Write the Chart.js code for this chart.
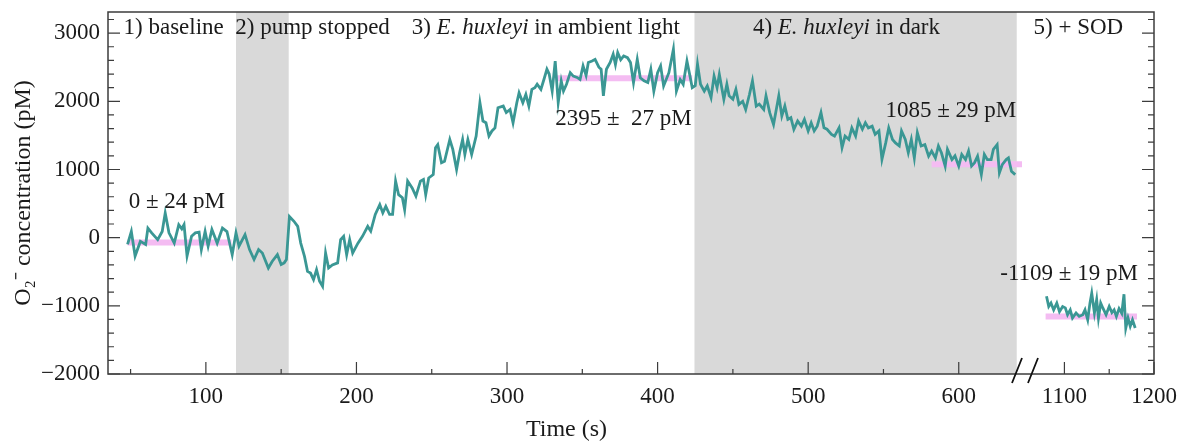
<!DOCTYPE html>
<html>
<head>
  <title>Superoxide trace</title>
  <script src="https://cdn.jsdelivr.net/npm/chart.js"></script>
  <style>
    body { margin: 0; background: white; }
    #wrap { width: 1182px; height: 444px; }
  </style>
</head>
<body>
<div id="wrap"><canvas id="o2Chart" width="1182" height="444"></canvas></div>

<script>
// main trace, time (s) and O2- (pM)
const tMain = [48,50.5,53,56.5,60,61.5,64,68,71,73,75.5,79,82,84,85.5,87.5,90.5,93,95.5,97,99.5,101.5,104,107.5,111,114,117.5,
  120,122,126,129,132,135,137.5,141.5,144,147.5,150,152,153.5,155.5,158.5,161,163,165.5,167.5,169.5,171.5,173.5,175.5,177.5,179.5,
  181.5,184,187.5,189.5,191.5,193.5,195.5,197.5,201,204,207.5,209.5,212.5,215.5,217.5,219.5,222,224,226,228,230.5,232,234,237,
  239.5,242.5,244.5,246,248,251,252.5,254,256.5,258.5,262,264,266.5,268.5,270.5,272,274,276.5,279.5,282,284,286,288,290,292,294,
  297.5,299.5,302,304,306.5,308,310.5,312.5,314.5,316.5,318.5,320,322.5,324.5,326.5,328,330,332,334,336,337.5,339.5,342,344,346.5,
  348.5,350.5,352.5,354,356.5,358.5,361,362.5,364,366,368.5,370.5,372,373.5,375.5,377.5,380,382,384,386.5,388.5,391,393.5,395.5,
  397.5,400,402,404,407.5,410.5,412.5,415,417,419.5,421.5,423,425,426.5,428.5,431,433,435.5,437.5,439.5,441,444,446,447.5,450,452,
  454,456.5,458.5,461,463,465.5,467.5,470.5,472,474.5,477,480.5,482.5,484.5,486.5,488.5,490.5,493,495.5,497.5,500,502,504,506,
  508.5,510.5,512.5,515.5,517.5,520.5,522.5,524.5,527,529,531.5,533.5,536,538,540,542.5,544.5,547,549,551.5,553.5,556,558,560.5,
  562,564.5,566.5,568.5,570.5,572.5,575,577.5,580,582,584.5,586.5,588.5,591,592.5,595.5,597.5,600,602,604.5,606.5,608.5,610.5,
  612.5,615,617,619,621.5,623,625.5,627,629,631.5,633,635,637.5];
const vMain = [-100,90,-270,-55,-100,140,70,-30,90,360,70,-80,190,130,190,-270,20,70,80,-175,90,-125,120,-80,140,90,-250,
  70,-125,45,-175,-320,-175,-225,-445,-350,-250,-395,-370,-320,310,240,165,-80,-275,-495,-520,-615,-470,-640,-715,-225,
  -445,-400,-370,-30,20,-250,-30,-225,-80,20,165,95,340,485,365,460,340,340,830,630,585,410,830,730,
  610,830,855,630,875,925,1320,1365,1100,1120,1440,1295,1000,1245,1440,1220,1440,1220,1490,1980,1710,1685,1490,1565,1610,1905,
  1930,1835,1880,1685,1980,2125,1980,2100,1930,2175,2200,2250,2175,2320,2470,2400,2150,2590,1980,2300,2150,2250,2420,2370,2350,
  2320,2520,2380,2570,2590,2615,2500,2470,2080,2470,2570,2690,2540,2715,2610,2665,2640,2570,2275,2615,2345,2300,2275,2470,
  2150,2420,2520,2225,2420,2765,2150,2320,2250,2590,2370,2200,2230,2545,2250,2150,2225,2055,2370,2200,2395,2030,2250,2080,2030,2175,
  1955,2000,1880,2100,2300,1930,1960,1880,2080,1830,1660,2080,1785,1930,1735,1760,1590,1710,1635,1735,1565,1685,1565,1635,
  1835,1610,1590,1515,1490,1610,1320,1490,1440,1610,1490,1710,1590,1685,1610,1635,1515,1565,1150,1390,1610,1440,1390,1345,
  1565,1440,1245,1440,1170,1540,1345,1365,1195,1270,1170,1345,1245,1050,1295,1145,1200,1050,1220,1145,1270,1050,1100,
  1195,925,1220,1145,1145,1295,1365,950,1075,1145,1170,975,925];

// after SOD addition
const tSod = [1080,1082.5,1085,1088,1091.5,1094.5,1098,1101,1103.5,1106.5,1109,1113,1116.5,1120.5,1123,1126,1128.5,1130.5,
  1133.5,1136,1138,1140.5,1143,1146.5,1150,1153,1155.5,1158,1161,1164,1166.5,1168.5,1171,1173.5,1176,1179];
const vSod = [-860,-1010,-960,-1060,-960,-1085,-1010,-1030,-1130,-1060,-1180,-1105,-1155,-1130,-1060,-1205,-960,-815,
  -1105,-910,-1180,-960,-1035,-1130,-1010,-1100,-1060,-1155,-1040,-1110,-830,-1325,-1180,-1300,-1205,-1325];

// mean levels (pink bars)
const meanSpans = [[48, 117], [333, 423], [582, 642], [1079, 1181]];
const meanVals = [-70, 2340, 1075, -1155];
const meanAxes = ['x', 'x', 'x', 'x2'];
const meanText = ['0 \u00b1 24 pM', '2395 \u00b1  27 pM', '1085 \u00b1 29 pM', '-1109 \u00b1 19 pM'];

// shaded phases
const shadeSpans = [[120, 155], [424.5, 638.5]];

// ticks
const xTicks = [100, 200, 300, 400, 500, 600];
const xMinor = [50, 150, 250, 350, 450, 550];
const x2Ticks = [1100, 1200];
const x2Minor = [1150];
const yTicks = [-2000, -1000, 0, 1000, 2000, 3000];
const yMinor = [-1800,-1600,-1400,-1200,-800,-600,-400,-200,200,400,600,800,1200,1400,1600,1800,2200,2400,2600,2800,3200];

const SERIF = "'Liberation Serif', 'Times New Roman', serif";
const ink = '#1a1a1a';

// phase headings and mean labels: [parts, axis, time, value, align]
const notes = [
  [[['1) baseline', 0]], 'x', 45.3, 3080, 'left'],
  [[['2) pump stopped', 0]], 'x', 119.5, 3080, 'left'],
  [[['3) ', 0], ['E. huxleyi', 1], [' in ambient light', 0]], 'x', 236.7, 3080, 'left'],
  [[['4) ', 0], ['E. huxleyi', 1], [' in dark', 0]], 'x', 463.3, 3080, 'left'],
  [[['5) + SOD', 0]], 'x2', 1065.5, 3080, 'left'],
  [[[meanText[0], 0]], 'x', 48.7, 530, 'left'],
  [[[meanText[1], 0]], 'x', 332, 1735, 'left'],
  [[[meanText[2], 0]], 'x', 551.3, 1852, 'left'],
  [[[meanText[3], 0]], 'x2', 1182, -530, 'right']
];

const decor = {
  id: 'decor',
  beforeDatasetsDraw(chart) {
    const {ctx, chartArea: a, scales} = chart;
    ctx.save();
    ctx.fillStyle = '#d9d9d9';
    shadeSpans.forEach(([s, e]) => {
      const x0 = scales.x.getPixelForValue(s), x1 = scales.x.getPixelForValue(e);
      ctx.fillRect(x0, a.top, x1 - x0, a.bottom - a.top);
    });
    ctx.restore();
  },
  afterDatasetsDraw(chart) {
    const {ctx, scales} = chart;
    ctx.save();
    ctx.fillStyle = ink;
    ctx.textBaseline = 'middle';
    ctx.textAlign = 'left';
    notes.forEach(([parts, ax, t, v, align]) => {
      const fonts = parts.map(p => (p[1] ? 'italic ' : '') + '23px ' + SERIF);
      const widths = parts.map((p, i) => { ctx.font = fonts[i]; return ctx.measureText(p[0]).width; });
      const total = widths.reduce((s, w) => s + w, 0);
      let px = scales[ax].getPixelForValue(t);
      if (align === 'right') px -= total;
      const py = scales.y.getPixelForValue(v);
      parts.forEach((p, i) => { ctx.font = fonts[i]; ctx.fillText(p[0], px, py); px += widths[i]; });
    });
    ctx.restore();
  },
  afterDraw(chart) {
    const {ctx, chartArea: a, scales} = chart;
    ctx.save();
    ctx.strokeStyle = '#3c3c3c';
    ctx.lineWidth = 1.5;
    ctx.strokeRect(a.left, a.top, a.right - a.left, a.bottom - a.top);
    ctx.lineWidth = 1.2;
    ctx.beginPath();
    const yt = (v, len) => {
      const py = scales.y.getPixelForValue(v);
      ctx.moveTo(a.left, py); ctx.lineTo(a.left + len, py);
      ctx.moveTo(a.right, py); ctx.lineTo(a.right - len, py);
    };
    yTicks.forEach(v => yt(v, 12));
    yMinor.forEach(v => yt(v, 6));
    const xt = (sc, v, len) => {
      const px = sc.getPixelForValue(v);
      ctx.moveTo(px, a.bottom); ctx.lineTo(px, a.bottom - len);
    };
    xTicks.forEach(v => xt(scales.x, v, 12));
    xMinor.forEach(v => xt(scales.x, v, 5));
    x2Ticks.forEach(v => xt(scales.x2, v, 12));
    x2Minor.forEach(v => xt(scales.x2, v, 5));
    ctx.stroke();
    // axis break
    const bx = scales.x.right;
    ctx.lineWidth = 1.8;
    ctx.strokeStyle = '#111';
    ctx.beginPath();
    [-13, 3].forEach(o => {
      ctx.moveTo(bx + o, a.bottom + 9);
      ctx.lineTo(bx + o + 10, a.bottom - 16);
    });
    ctx.stroke();
    ctx.restore();
  }
};

const meanSets = meanSpans.map((sp, i) => ({
  data: [{x: sp[0], y: meanVals[i]}, {x: sp[1], y: meanVals[i]}],
  xAxisID: meanAxes[i],
  borderColor: '#f4bcf2',
  borderWidth: 6,
  pointRadius: 0,
  order: 2
}));

const tickFont = {family: SERIF, size: 23};
const noPad = s => { s.paddingLeft = 0; s.paddingRight = 0; s.paddingTop = 0; s.paddingBottom = 0; };

new Chart(document.getElementById('o2Chart'), {
  type: 'line',
  data: {
    datasets: [
      ...meanSets,
      {
        data: tMain.map((t, i) => ({x: t, y: vMain[i]})),
        xAxisID: 'x',
        borderColor: '#3a9794',
        borderWidth: 2.8,
        pointRadius: 0,
        tension: 0,
        order: 1
      },
      {
        data: tSod.map((t, i) => ({x: t, y: vSod[i]})),
        xAxisID: 'x2',
        borderColor: '#3a9794',
        borderWidth: 2.8,
        pointRadius: 0,
        tension: 0,
        order: 1
      }
    ]
  },
  options: {
    responsive: false,
    animation: false,
    layout: { padding: {top: 12, right: 28, left: 0, bottom: 0} },
    plugins: { legend: {display: false}, tooltip: {enabled: false} },
    scales: {
      x: {
        type: 'linear', position: 'bottom', stack: 'time', stackWeight: 917,
        min: 35, max: 644,
        afterBuildTicks: s => { s.ticks = xTicks.map(v => ({value: v})); },
        afterFit: s => { s.height = 70; noPad(s); },
        grid: {display: false, drawTicks: false},
        border: {display: false},
        ticks: {font: tickFont, color: ink, padding: 9, maxRotation: 0, callback: v => String(v)},
        title: {display: true, text: 'Time (s)', font: {family: SERIF, size: 24}, color: ink, padding: {top: 0, bottom: 0}}
      },
      x2: {
        type: 'linear', position: 'bottom', stack: 'time', stackWeight: 129,
        min: 1056, max: 1200,
        afterBuildTicks: s => { s.ticks = x2Ticks.map(v => ({value: v})); },
        afterFit: s => { s.height = 70; noPad(s); },
        grid: {display: false, drawTicks: false},
        border: {display: false},
        ticks: {font: tickFont, color: ink, padding: 9, maxRotation: 0, callback: v => String(v)}
      },
      y: {
        min: -2000, max: 3310,
        afterBuildTicks: s => { s.ticks = yTicks.map(v => ({value: v})); },
        afterFit: s => { s.width = 108; noPad(s); },
        grid: {display: false, drawTicks: false},
        border: {display: false},
        ticks: {font: tickFont, color: ink, padding: 8,
          callback: v => v < 0 ? '\u2212' + Math.abs(v) : String(v)},
        title: {display: true, text: 'O\u2082\u207b concentration (pM)', font: {family: SERIF, size: 24}, color: ink, padding: {top: 9, bottom: 0}}
      }
    }
  },
  plugins: [decor]
});
</script>
</body>
</html>
